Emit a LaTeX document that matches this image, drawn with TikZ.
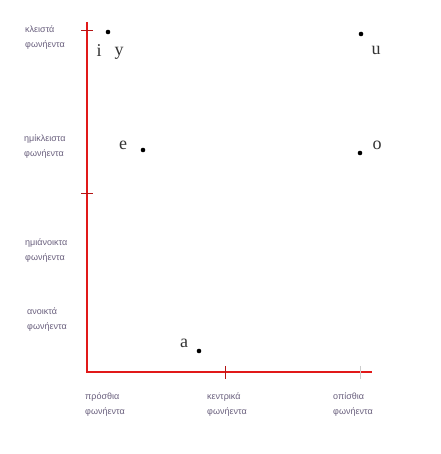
\documentclass[tikz,border=0pt]{standalone}
\usepackage{fontspec}
\setmainfont{Liberation Serif}
\newfontfamily\labelfont{Liberation Sans}
\definecolor{labelgrey}{RGB}{105,95,125}
\definecolor{axisred}{RGB}{225,25,25}
\begin{document}
\begin{tikzpicture}[x=1pt,y=1pt,
  axisline/.style={draw=axisred,line width=2.8pt},
  tickline/.style={draw=axisred!80!black,line width=0.7pt},
  catlabel/.style={font=\labelfont\fontsize{9}{15}\selectfont,text=labelgrey,align=left,inner sep=0pt},
  vowel/.style={font=\fontsize{18}{18}\selectfont,text=black!80,inner sep=0pt},
  vdot/.style={fill=black,circle,inner sep=0pt,minimum size=4.6pt}]
  \useasboundingbox[fill=white] (0,0) rectangle (440,454);

  % axes
  \coordinate (top) at (87,432);
  \coordinate (origin) at (87,82);
  \coordinate (right) at (372,82);
  \draw[axisline] (top) -- (origin) -- (right);

  % ticks on the height axis
  \coordinate (t1a) at (81,424); \coordinate (t1b) at (93,424);
  \coordinate (t2a) at (81,261); \coordinate (t2b) at (93,261);
  \draw[tickline] (t1a) -- (t1b);
  \draw[tickline] (t2a) -- (t2b);
  % ticks on the backness axis
  \coordinate (t3a) at (225,88); \coordinate (t3b) at (225,75);
  \coordinate (t4a) at (360,88); \coordinate (t4b) at (360,75);
  \draw[tickline] (t3a) -- (t3b);
  \draw[tickline,draw=black!20] (t4a) -- (t4b);

  % height categories
  \node[catlabel,anchor=west] (closed) at (25,416) {κλειστά\\φωνήεντα};
  \node[catlabel,anchor=west] (closemid) at (24,307) {ημίκλειστα\\φωνήεντα};
  \node[catlabel,anchor=west] (openmid) at (25,203) {ημιάνοικτα\\φωνήεντα};
  \node[catlabel,anchor=west] (open) at (27,134) {ανοικτά\\φωνήεντα};

  % backness categories
  \node[catlabel,anchor=north west] (front) at (85,61) {πρόσθια\\φωνήεντα};
  \node[catlabel,anchor=north west] (central) at (207,61) {κεντρικά\\φωνήεντα};
  \node[catlabel,anchor=north west] (back) at (333,61) {οπίσθια\\φωνήεντα};

  % vowels
  \node[vdot] (diy) at (108,422) {};
  \node[vowel] (vi) at (99,403) {i};
  \node[vowel] (vy) at (119,401) {y};
  \node[vowel] (ve) at (123,309) {e};
  \node[vdot] (de) at (143,304) {};
  \node[vdot] (du) at (361,420) {};
  \node[vowel] (vu) at (376,404) {u};
  \node[vdot] (do) at (360,301) {};
  \node[vowel] (vo) at (377,309) {o};
  \node[vowel] (va) at (184,111) {a};
  \node[vdot] (da) at (199,103) {};
\end{tikzpicture}
\end{document}
